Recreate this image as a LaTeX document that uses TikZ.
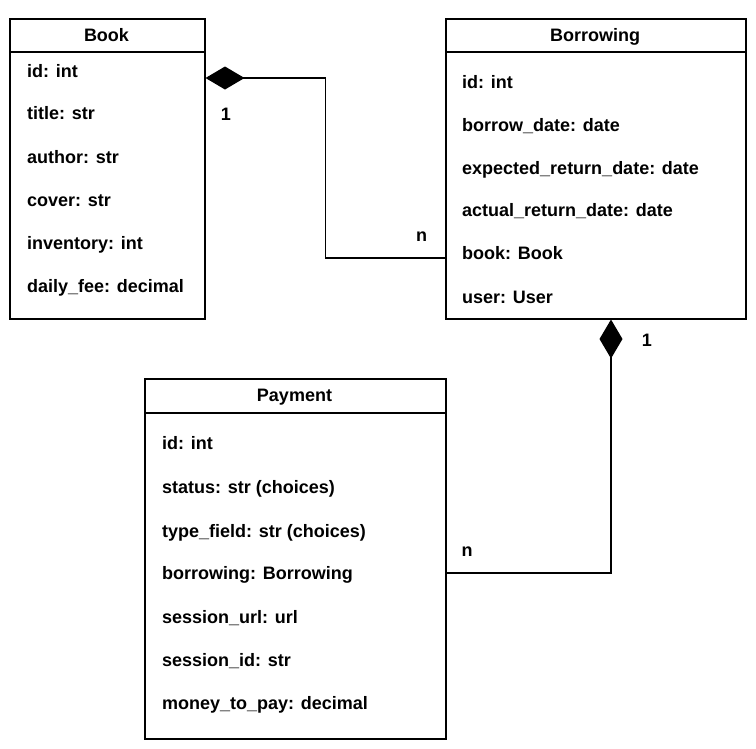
\documentclass[tikz,border=0pt]{standalone}
\usepackage{fontspec}
\setmainfont{Liberation Sans}
\usetikzlibrary{arrows.meta, calc}
\tikzset{
    classbox/.style={draw, line width=1.5pt, anchor=north west, inner sep=0pt},
    title/.style={anchor=base, inner sep=0pt, font=\fontsize{18}{20}\selectfont\bfseries},
    field/.style={anchor=base west, inner sep=0pt, font=\fontsize{18}{20}\selectfont\bfseries},
    mult/.style={anchor=base, inner sep=0pt, font=\fontsize{18}{20}\selectfont\bfseries},
    link/.style={line width=1.5pt, {Diamond[length=39pt, width=23pt]}-}
}

\begin{document}
\begin{tikzpicture}[x=1pt, y=-1pt]
    \useasboundingbox[fill=white] (0,0) rectangle (756,748);
% Boxes
    \node[classbox, minimum width=195pt, minimum height=300pt] (book) at (9,18) {};
    \node[classbox, minimum width=300pt, minimum height=300pt] (borrowing) at (445,18) {};
    \node[classbox, minimum width=301pt, minimum height=360pt] (payment) at (144,378) {};
% Header lines
    \draw[line width=1.5pt] ($(book.north west)+(0,34)$) -- ($(book.north east)+(0,34)$);
    \draw[line width=1.5pt] ($(borrowing.north west)+(0,34)$) -- ($(borrowing.north east)+(0,34)$);
    \draw[line width=1.5pt] ($(payment.north west)+(0,35)$) -- ($(payment.north east)+(0,35)$);
% Titles
    \node[title] (booktitle) at (106.5,41) {Book};
    \node[title] (borrowingtitle) at (595,41) {Borrowing};
    \node[title] (paymenttitle) at (294.5,401) {Payment};
% Book fields
    \node[field] (bookid) at (27,77) {id: int};
    \node[field] (booktitlef) at (27,119) {title: str};
    \node[field] (bookauthor) at (27,163) {author: str};
    \node[field] (bookcover) at (27,206) {cover: str};
    \node[field] (bookinventory) at (27,249) {inventory: int};
    \node[field] (bookfee) at (27,292) {daily\_fee: decimal};
% Borrowing fields
    \node[field] (borrowingid) at (462,88) {id: int};
    \node[field] (borrowingdate) at (462,131) {borrow\_date: date};
    \node[field] (borrowingexpected) at (462,174) {expected\_return\_date: date};
    \node[field] (borrowingactual) at (462,216) {actual\_return\_date: date};
    \node[field] (borrowingbook) at (462,259) {book: Book};
    \node[field] (borrowinguser) at (462,303) {user: User};
% Payment fields
    \node[field] (paymentid) at (162,449) {id: int};
    \node[field] (paymentstatus) at (162,493) {status: str (choices)};
    \node[field] (paymenttype) at (162,537) {type\_field: str (choices)};
    \node[field] (paymentborrowing) at (162,579) {borrowing: Borrowing};
    \node[field] (paymenturl) at (162,623) {session\_url: url};
    \node[field] (paymentsession) at (162,666) {session\_id: str};
    \node[field] (paymentmoney) at (162,709) {money\_to\_pay: decimal};
% Associations
    \draw[link] ($(book.north east)+(0,60)$) -- ++(120,0) |- ($(borrowing.north west)+(0,240)$);
    \draw[link] ($(borrowing.south west)+(166,0)$) |- ($(payment.north east)+(0,195)$);
% Multiplicities
    \node[mult] (bookone) at (226,120) {1};
    \node[mult] (borrowingmany) at (421.5,241) {n};
    \node[mult] (borrowingone) at (647,346) {1};
    \node[mult] (paymentmany) at (467,556) {n};
\end{tikzpicture}
\end{document}
